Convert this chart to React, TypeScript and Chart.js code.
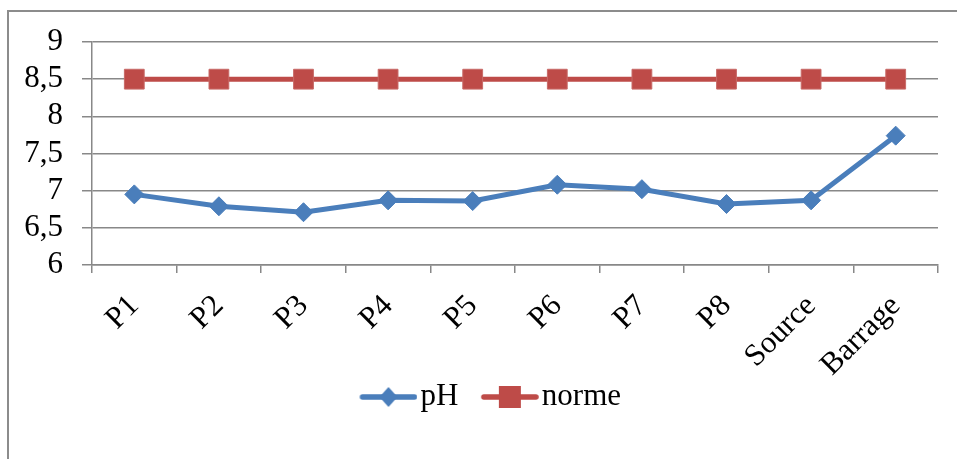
import { useEffect, useRef } from 'react';
import { Chart, registerables } from 'chart.js';

Chart.register(...registerables);

// Sampling points along the stream, then the spring and the dam
const categories = ['P1', 'P2', 'P3', 'P4', 'P5', 'P6', 'P7', 'P8', 'Source', 'Barrage'];
const phValues = [6.95, 6.79, 6.71, 6.87, 6.86, 7.08, 7.02, 6.82, 6.87, 7.74];
const normeValues = [8.5, 8.5, 8.5, 8.5, 8.5, 8.5, 8.5, 8.5, 8.5, 8.5];
const seriesNames = ['pH', 'norme'];
const yMin = 6;
const yMax = 9;
const yStep = 0.5;

const FONT = "'Liberation Serif', 'Times New Roman', serif";
const FONT_SIZE = 31;
const BLUE = '#4A7EBB';
const RED = '#BE4B48';
const GRID = '#888888';
const W = 957;
const H = 459;

// Legend swatch: a short stroke with the series marker in its middle.
// The left part of the canvas is left blank so the text sits close to the stroke.
const SWATCH_W = 93;
const SWATCH_BOX = 68;
function legendSwatch(color: string, marker: 'diamond' | 'square'): HTMLCanvasElement {
  const w = SWATCH_W;
  const h = 26;
  const c = document.createElement('canvas');
  c.width = w;
  c.height = h;
  const ctx = c.getContext('2d')!;
  const x0 = w - 58;
  const cy = h / 2;
  ctx.strokeStyle = color;
  ctx.lineWidth = 5.5;
  ctx.lineCap = 'round';
  ctx.beginPath();
  ctx.moveTo(x0 + 3, cy);
  ctx.lineTo(w - 3, cy);
  ctx.stroke();
  const cx = x0 + 29;
  ctx.fillStyle = color;
  if (marker === 'diamond') {
    ctx.beginPath();
    ctx.moveTo(cx, cy - 10);
    ctx.lineTo(cx + 9, cy);
    ctx.lineTo(cx, cy + 10);
    ctx.lineTo(cx - 9, cy);
    ctx.closePath();
    ctx.fill();
  } else {
    ctx.fillRect(cx - 11, cy - 11, 22, 22);
  }
  return c;
}

export default function App() {
  const canvasRef = useRef<HTMLCanvasElement>(null);

  useEffect(() => {
    const canvas = canvasRef.current;
    if (!canvas) return;
    const swatches = [legendSwatch(BLUE, 'diamond'), legendSwatch(RED, 'square')];

    const chart = new Chart(canvas, {
      type: 'line',
      data: {
        labels: categories,
        datasets: [
          {
            label: seriesNames[0],
            data: phValues,
            borderColor: BLUE,
            backgroundColor: BLUE,
            borderWidth: 5,
            pointStyle: 'rectRot',
            pointRadius: 9.5,
            pointBorderWidth: 1,
            pointBorderColor: BLUE,
            pointBackgroundColor: BLUE,
            tension: 0,
          },
          {
            label: seriesNames[1],
            data: normeValues,
            borderColor: RED,
            backgroundColor: RED,
            borderWidth: 5,
            pointStyle: 'rect',
            pointRadius: 14,
            pointBorderWidth: 1,
            pointBorderColor: '#C86A67',
            pointBackgroundColor: RED,
            tension: 0,
          },
        ],
      },
      options: {
        responsive: false,
        animation: false,
        devicePixelRatio: 1,
        layout: { padding: { top: 42, left: 20, right: 19, bottom: 36.5 } },
        plugins: {
          tooltip: { enabled: false },
          legend: {
            position: 'bottom',
            labels: {
              usePointStyle: true,
              pointStyleWidth: SWATCH_BOX,
              padding: 0,
              color: '#000000',
              font: { family: FONT, size: FONT_SIZE },
              generateLabels: (ch: Chart) => {
                const items = Chart.defaults.plugins.legend.labels.generateLabels(ch);
                return items.map((it: any, i: number) => ({ ...it, pointStyle: swatches[i] }));
              },
            },
          },
        },
        scales: {
          x: {
            type: 'category',
            offset: true,
            grid: {
              offset: true,
              drawOnChartArea: false,
              drawTicks: true,
              tickLength: 8,
              color: GRID,
              lineWidth: 1.5,
            },
            border: { color: GRID, width: 1.5 },
            ticks: {
              autoSkip: false,
              minRotation: 45,
              maxRotation: 45,
              padding: 15,
              color: '#000000',
              font: { family: FONT, size: FONT_SIZE },
            },
            afterFit: (scale: any) => {
              scale.height = 116.5;
            },
          },
          y: {
            min: yMin,
            max: yMax,
            grid: {
              color: GRID,
              lineWidth: 1.5,
              tickLength: 10,
              drawTicks: true,
            },
            border: { color: GRID, width: 1.5 },
            ticks: {
              stepSize: yStep,
              autoSkip: false,
              maxTicksLimit: 20,
              padding: 19,
              color: '#000000',
              font: { family: FONT, size: FONT_SIZE },
              callback: (v: any) => String(v).replace('.', ','),
            },
            afterFit: (scale: any) => {
              scale.width = 72;
            },
          },
        },
      },
    } as any);

    return () => chart.destroy();
  }, []);

  return (
    <div
      style={{
        position: 'absolute',
        left: 0,
        top: 0,
        width: W,
        height: H,
        overflow: 'hidden',
        background: '#ffffff',
      }}
    >
      <div
        style={{
          position: 'absolute',
          left: 7,
          top: 10,
          width: W + 100,
          height: H + 100,
          borderLeft: '2px solid #8c8c8c',
          borderTop: '2px solid #8c8c8c',
        }}
      />
      <canvas
        ref={canvasRef}
        width={W}
        height={H}
        style={{ position: 'absolute', left: 0, top: 0, width: W, height: H }}
      />
    </div>
  );
}
